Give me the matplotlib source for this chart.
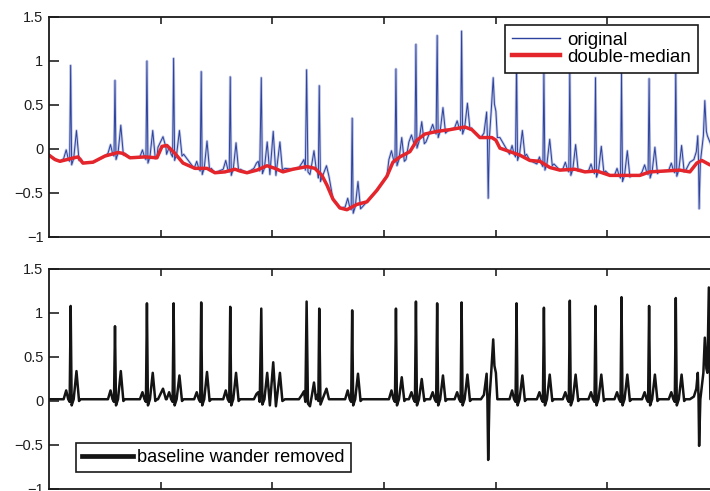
import numpy as np
import matplotlib
matplotlib.use("Agg")
import matplotlib.pyplot as plt
from matplotlib.lines import Line2D

plt.rcParams['font.family'] = ['Liberation Sans', 'DejaVu Sans']

# ---------------- data (time axis in s) ----------------
# regular beats: R-peak time, R amplitude, T amplitude, P amplitude (baseline-removed)
r_time = [0.194, 0.591, 0.877, 1.116, 1.363, 1.623, 2.715, 3.107, 3.286, 3.476,
          3.695, 4.187, 4.432, 4.664, 4.894, 5.127, 5.374, 5.613]
r_amp = [1.06, 0.83, 1.09, 1.09, 1.10, 1.05, 1.01, 1.03, 1.11, 1.09,
         1.10, 1.09, 1.04, 1.12, 1.06, 1.16, 1.06, 1.15]
t_amp = [0.32, 0.32, 0.30, 0.27, 0.31, 0.30, 0.29, 0.25, 0.23, 0.27,
         0.28, 0.27, 0.28, 0.28, 0.28, 0.28, 0.28, 0.28]
p_amp = [0.10, 0.10, 0.08, 0.08, 0.08, 0.10, 0.10, 0.10, 0.08, 0.08,
         0.08, 0.10, 0.08, 0.08, 0.08, 0.08, 0.08, 0.08]
# wander level of the original signal at each regular beat
beat_level = [-0.11, -0.05, -0.09, -0.06, -0.22, -0.23, -0.66, -0.12, 0.08, 0.20,
              0.24, -0.06, -0.17, -0.23, -0.25, -0.30, -0.26, -0.24]

# irregular stretches read point by point (time, baseline-removed value), with wander level
bump_t = [0.976, 1.021, 1.047]
bump_v = [0.00, 0.12, 0.00]
bump_level = 0.02

cplx_t = [1.835, 1.858, 1.874, 1.887, 1.901, 1.911, 1.929, 1.954, 1.978, 2.008, 2.032, 2.068, 2.090, 2.113]
cplx_v = [0.00, 0.06, 0.08, -0.03, 1.03, -0.06, 0.00, 0.30, -0.07, 0.42, -0.08, 0.30, -0.02, 0.00]
cplx_level = -0.22

pair1_t = [2.238, 2.265, 2.283, 2.296, 2.307, 2.319, 2.337, 2.355, 2.373, 2.391]
pair1_v = [0.00, 0.05, 0.09, -0.03, 1.11, -0.05, -0.08, 0.05, 0.19, 0.00]
pair1_level = -0.21

pair2_t = [2.405, 2.412, 2.420, 2.431, 2.449, 2.485, 2.507]
pair2_v = [0.05, -0.02, 1.03, -0.06, 0.00, 0.12, 0.00]
pair2_level = -0.31

pvc1_t = [3.868, 3.895, 3.919, 3.926, 3.933, 3.944, 3.960, 3.978, 3.989, 4.002, 4.015, 4.038]
pvc1_v = [0.00, 0.05, 0.29, 0.00, -0.69, 0.00, 0.30, 0.68, 0.38, 0.30, 0.00, 0.00]
pvc1_level = 0.13

pvc2_t = [5.739, 5.775, 5.797, 5.810, 5.817, 5.822, 5.833, 5.851, 5.860, 5.873, 5.887, 5.896]
pvc2_v = [0.00, 0.03, 0.12, 0.30, 0.00, -0.53, 0.00, 0.20, 0.30, 0.70, 0.35, 0.30]
pvc2_level = -0.15

tail_t = [5.909, 5.923]          # last spike, seen only in the lower panel
tail_v = [1.27, 0.00]

removed_level = 0.02

# double-median baseline (red) knots
base_t = [0.000, 0.054, 0.098, 0.161, 0.224, 0.260, 0.304, 0.394, 0.501, 0.618,
          0.662, 0.725, 0.859, 0.967, 1.012, 1.056, 1.128, 1.200, 1.307, 1.415,
          1.486, 1.576, 1.665, 1.710, 1.773, 1.862, 1.952, 2.023, 2.095, 2.184,
          2.310, 2.381, 2.444, 2.489, 2.543, 2.605, 2.668, 2.757, 2.847, 2.936,
          3.026, 3.080, 3.142, 3.232, 3.295, 3.366, 3.474, 3.590, 3.724, 3.787,
          3.859, 3.966, 4.002, 4.038, 4.127, 4.217, 4.306, 4.396, 4.485, 4.575,
          4.709, 4.799, 4.906, 5.023, 5.157, 5.291, 5.380, 5.515, 5.649, 5.739,
          5.801, 5.846, 5.918, 6.000]
base_v = [-0.07, -0.12, -0.14, -0.12, -0.10, -0.09, -0.16, -0.15, -0.08, -0.04,
          -0.05, -0.10, -0.09, -0.10, 0.03, 0.04, -0.05, -0.16, -0.22, -0.22,
          -0.27, -0.26, -0.23, -0.25, -0.27, -0.24, -0.19, -0.22, -0.26, -0.23,
          -0.20, -0.22, -0.30, -0.41, -0.57, -0.67, -0.69, -0.63, -0.60, -0.47,
          -0.31, -0.15, -0.09, -0.03, 0.10, 0.17, 0.20, 0.22, 0.25, 0.22,
          0.13, 0.13, 0.10, 0.01, -0.03, -0.07, -0.13, -0.14, -0.21, -0.24,
          -0.23, -0.26, -0.25, -0.30, -0.30, -0.30, -0.26, -0.25, -0.24, -0.26,
          -0.16, -0.13, -0.18, -0.18]

# ---------------- assemble traces ----------------
# beat template: time offsets from R and which feature sits there
tmpl_dt = [-0.063, -0.040, -0.022, -0.009, 0.0, 0.009, 0.027, 0.052, 0.075, 0.090]

segments = []  # (times, removed values, wander level or None)
for rt, ra, ta, pa, lv in zip(r_time, r_amp, t_amp, p_amp, beat_level):
    vals = [0.0, pa, 0.0, -0.03, ra, -0.07, 0.0, ta, -0.02, 0.0]
    segments.append(([rt + d for d in tmpl_dt], vals, lv))
segments += [(bump_t, bump_v, bump_level), (cplx_t, cplx_v, cplx_level),
             (pair1_t, pair1_v, pair1_level), (pair2_t, pair2_v, pair2_level),
             (pvc1_t, pvc1_v, pvc1_level), (pvc2_t, pvc2_v, pvc2_level),
             (tail_t, tail_v, None)]
segments.sort(key=lambda s: s[0][0])
windows = [(s[0][0], s[0][-1]) for s in segments]

# lower panel: baseline-wander removed
low_t, low_v = [0.0], [removed_level]
for ts, vs, lv in segments:
    low_t += list(ts)
    low_v += [v + removed_level for v in vs]
low_t.append(6.0)
low_v.append(removed_level)

# upper panel: original = removed + wander
pts = []
for ts, vs, lv in segments:
    if lv is None:
        continue
    pts += [(t, v + lv) for t, v in zip(ts, vs)]
for t, v in zip(base_t, base_v):
    if not any(a <= t <= b for a, b in windows):
        pts.append((t, v))
pts.sort()
orig_t = [p[0] for p in pts]
orig_v = [p[1] for p in pts]

# ---------------- figure ----------------
W, H = 710, 491
fig = plt.figure(figsize=(W / 100, H / 100), dpi=100)
ax1 = fig.add_axes([49 / W, (H - 237) / H, 670 / W, 220 / H])
ax2 = fig.add_axes([49 / W, (H - 489) / H, 670 / W, 220 / H])

blue_dark = '#2c429c'
blue_light = '#c3c9e8'
red = '#e5252c'

ax1.plot(orig_t, orig_v, color=blue_light, lw=1.9, solid_joinstyle='round')
ax1.plot(orig_t, orig_v, color=blue_dark, lw=0.7)
ax1.plot(base_t, base_v, color=red, lw=2.5, solid_joinstyle='round')

ax2.plot(low_t, low_v, color='#141414', lw=1.8, solid_joinstyle='round')

yt = [-1, -0.5, 0, 0.5, 1, 1.5]
ytl = ['\u22121', '\u22120.5', '0', '0.5', '1', '1.5']
for ax in (ax1, ax2):
    ax.set_xlim(0, 6)
    ax.set_ylim(-1, 1.5)
    ax.set_yticks(yt)
    ax.set_yticklabels(ytl)
    ax.set_xticks([1, 2, 3, 4, 5])
    ax.tick_params(axis='x', direction='in', top=True, bottom=True, labelbottom=False,
                   length=5, width=1.2, color='#222222')
    ax.tick_params(axis='y', direction='in', left=True, right=False, length=7, width=1.2,
                   pad=4, labelsize=10.5, labelcolor='#1e1e1e', color='#222222')
    for sp in ax.spines.values():
        sp.set_linewidth(1.3)
        sp.set_color('#1a1a1a')

h1 = [Line2D([], [], color=blue_dark, lw=1.0), Line2D([], [], color=red, lw=3.2)]
leg1 = ax1.legend(h1, ['original', 'double-median'], loc='upper right',
                  bbox_to_anchor=(698 / W, 1 - 25 / H), bbox_transform=fig.transFigure,
                  fontsize=13.5, frameon=True, fancybox=False, framealpha=1,
                  edgecolor='#1a1a1a', borderpad=0.36, labelspacing=0.0,
                  handlelength=2.55, handletextpad=0.4, borderaxespad=0)
leg1.get_frame().set_linewidth(1.2)

h2 = [Line2D([], [], color='#141414', lw=3.4)]
leg2 = ax2.legend(h2, ['baseline wander removed'], loc='lower left',
                  bbox_to_anchor=(76 / W, 1 - 472 / H), bbox_transform=fig.transFigure,
                  fontsize=13.1, frameon=True, fancybox=False, framealpha=1,
                  edgecolor='#1a1a1a', borderpad=0.32,
                  handlelength=2.8, handletextpad=0.25, borderaxespad=0)
leg2.get_frame().set_linewidth(1.2)

fig.savefig('out.png', dpi=100)
